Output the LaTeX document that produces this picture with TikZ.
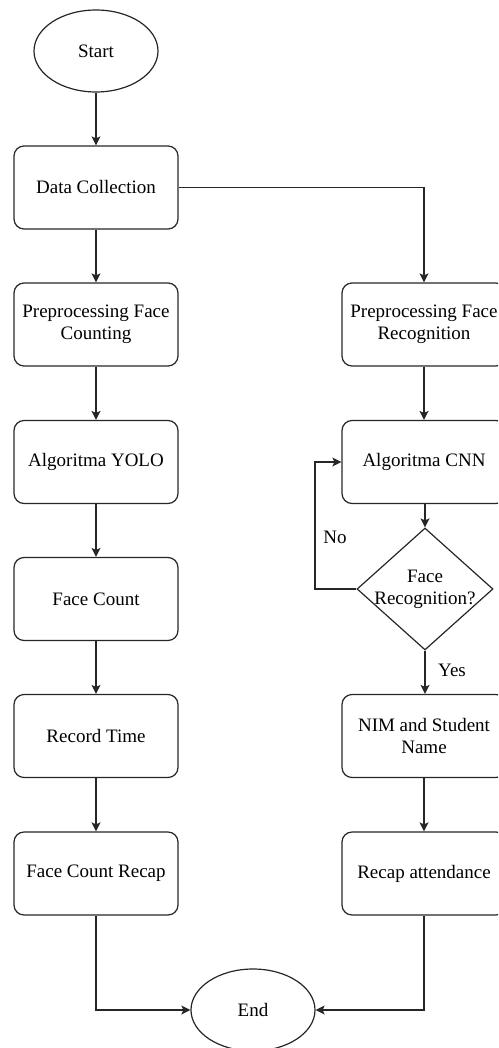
\documentclass[tikz,border=0pt]{standalone}
\usepackage{fontspec}
\setmainfont{Liberation Serif}
\usetikzlibrary{shapes.geometric,arrows.meta}
\begin{document}
\begin{tikzpicture}[x=1pt,y=-1pt,
  every node/.style={font=\fontsize{19}{22}\selectfont, text=black},
  procbox/.style={draw=black!85, line width=1.2pt, rectangle, rounded corners=10pt,
    minimum width=164pt, minimum height=83pt, inner sep=0pt, align=center},
  termnode/.style={draw=black!85, line width=1.2pt, ellipse,
    minimum width=124pt, minimum height=82pt, inner sep=0pt},
  decnode/.style={draw=black!85, line width=1.2pt, diamond,
    minimum width=136pt, minimum height=122pt, inner sep=0pt},
  flow/.style={draw=black!85, line width=1.2pt, -{Stealth[length=9pt,width=9pt,inset=2pt]}},
  lbl/.style={inner sep=0pt}
]
\useasboundingbox (0,0) rectangle (498,1048);
\clip (0,0) rectangle (498,1048);

\node[termnode] (start) at (96,51) {Start};
\node[procbox] (dc) at (96,187.5) {Data Collection};
\node[procbox] (pfc) at (96,324.5) {Preprocessing Face\\Counting};
\node[procbox] (yolo) at (96,462) {Algoritma YOLO};
\node[procbox] (fc) at (96,599) {Face Count};
\node[procbox] (rt) at (96,736) {Record Time};
\node[procbox] (fcr) at (96,873.5) {Face Count Recap};

\node[procbox] (pr) at (424,324.5) {Preprocessing Face\\Recognition};
\node[procbox] (cnn) at (424,462) {Algoritma CNN};
\node[decnode] (dec) at (425,589) {};
\node[align=center, inner sep=0pt] (dectext) at (dec.center) {Face\\Recognition?};
\node[procbox] (nim) at (424,736) {NIM and Student\\Name};
\node[procbox] (rca) at (424,873.5) {Recap attendance};

\node[termnode] (end) at (253,1010) {End};

\coordinate (nocorner) at (315,589);

\draw[flow] (start) -- (dc);
\draw[flow] (dc) -- (pfc);
\draw[flow] (pfc) -- (yolo);
\draw[flow] (yolo) -- (fc);
\draw[flow] (fc) -- (rt);
\draw[flow] (rt) -- (fcr);
\draw[flow] (dc.east) -| (pr.north);
\draw[flow] (pr) -- (cnn);
\draw[flow] (cnn.south -| dec.north) -- (dec.north);
\draw[flow] (dec.south) -- (nim.north -| dec.south);
\draw[flow] (dec.west) -- (nocorner) |- (cnn.west);
\draw[flow] (nim) -- (rca);
\draw[flow] (fcr.south) |- (end.west);
\draw[flow] (rca.south) |- (end.east);

\node[lbl] (nolbl) at (335,537) {No};
\node[lbl] (yeslbl) at (452,670) {Yes};
\end{tikzpicture}
\end{document}
